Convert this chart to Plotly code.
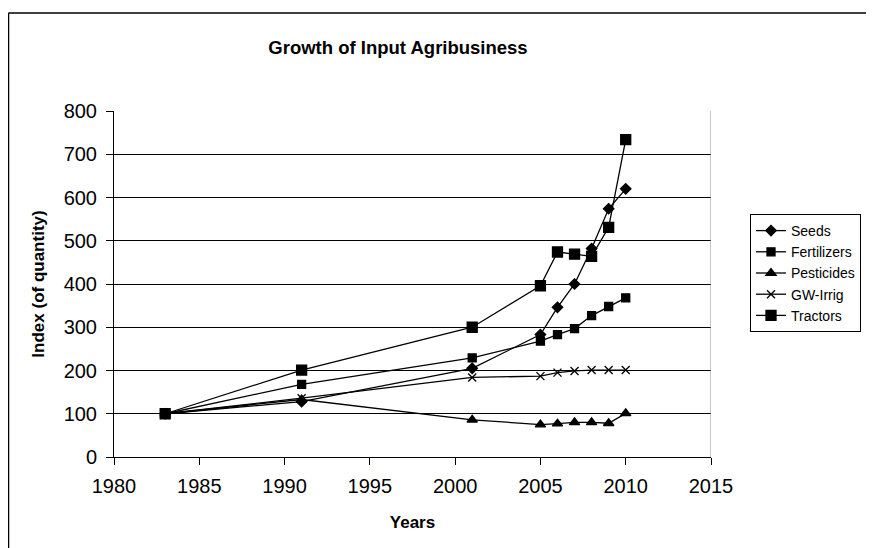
import plotly.graph_objects as go

years_all = [1983, 1991, 2001, 2005, 2006, 2007, 2008, 2009, 2010]
seeds = [100, 128, 205, 283, 346, 400, 482, 574, 620]
fertilizers = [100, 168, 229, 268, 283, 297, 327, 348, 368]
pesticides = [100, 133, 86, 75, 77, 80, 80, 78, 101]
gw_irrig = [100, 136, 184, 187, 195, 199, 201, 201, 201]
tractors = [100, 201, 300, 396, 474, 469, 464, 531, 734]

series = [
    ("Seeds", seeds, "diamond", 8),
    ("Fertilizers", fertilizers, "square", 8),
    ("Pesticides", pesticides, "triangle-up", 9),
    ("GW-Irrig", gw_irrig, "x-thin-open", 8),
    ("Tractors", tractors, "square", 10),
]

x_ticks = [1980, 1985, 1990, 1995, 2000, 2005, 2010, 2015]
y_ticks = [0, 100, 200, 300, 400, 500, 600, 700, 800]

FONT = "Liberation Sans, Arial, sans-serif"

# page has an 8px body margin; figure is sized/placed to compensate
W, H = 866, 540
L, T, PW, PH = 106, 103, 597, 346

fig = go.Figure()
for name, vals, sym, size in series:
    fig.add_trace(go.Scatter(
        x=years_all, y=vals, name=name, mode="lines+markers",
        line=dict(color="black", width=1.3),
        marker=dict(symbol=sym, size=size, color="black",
                    line=dict(color="black", width=1.3)),
    ))

fig.update_layout(
    width=W, height=H,
    margin=dict(l=L, r=W - L - PW, t=T, b=H - T - PH),
    paper_bgcolor="white", plot_bgcolor="white",
    font=dict(family=FONT, color="black"),
    title=dict(text="<b>Growth of Input Agribusiness</b>",
               font=dict(size=18.5, family=FONT, color="black"),
               x=390 / W, xanchor="center", xref="container",
               y=1 - 40 / H, yanchor="middle", yref="container"),
    showlegend=True,
    legend=dict(x=(742 - L) / PW, y=(T + PH - 206) / PH, xanchor="left", yanchor="top",
                bordercolor="black", borderwidth=1, bgcolor="white",
                font=dict(size=14, family=FONT, color="black"),
                tracegroupgap=0, itemwidth=30),
)

fig.update_xaxes(
    range=[1980, 2015], tickvals=x_ticks, ticktext=[str(v) for v in x_ticks],
    showgrid=False, zeroline=False, showline=True, linecolor="black", linewidth=1,
    ticks="outside", ticklen=7, tickcolor="black", ticklabelstandoff=4,
    tickfont=dict(size=20, family=FONT, color="black"),
    title=dict(text="<b>Years</b>", font=dict(size=17, family=FONT, color="black"), standoff=20),
)
fig.update_yaxes(
    range=[0, 800], tickvals=y_ticks,
    showgrid=True, gridcolor="black", gridwidth=1, zeroline=False,
    showline=True, linecolor="black", linewidth=1,
    ticks="outside", ticklen=7, tickcolor="black", ticklabelstandoff=5,
    tickfont=dict(size=20, family=FONT, color="black"),
    title=dict(text="<b>Index (of quantity)</b>", font=dict(size=17, family=FONT, color="black"), standoff=14),
)

# plot-area right border (gray) and outer chart frame
fig.add_shape(type="line", xref="x", yref="y", x0=2015, x1=2015, y0=0, y1=800,
              line=dict(color="#909090", width=1))
fx = (0.5 - L) / PW
fy = (T + PH - 5) / PH
fig.add_shape(type="line", xref="paper", yref="paper",
              x0=fx, x1=fx, y0=fy, y1=-0.4,
              line=dict(color="black", width=1.5))
fig.add_shape(type="line", xref="paper", yref="paper",
              x0=fx, x1=1.4, y0=fy, y1=fy,
              line=dict(color="black", width=1.5))

fig.write_html("out.html")
